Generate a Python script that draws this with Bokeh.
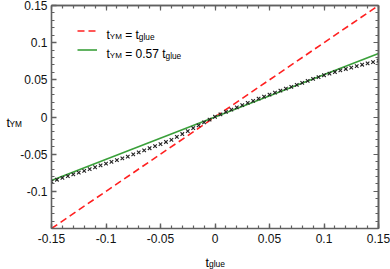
from bokeh.plotting import figure
from bokeh.models import (Range1d, LinearAxis, FixedTicker, CustomJSTickFormatter,
                          Label, Legend, LegendItem)
from bokeh.embed import file_html
from bokeh.resources import INLINE

# ---- data ----
t_glue = [-0.150, -0.145, -0.140, -0.135, -0.130, -0.125, -0.120, -0.115, -0.110, -0.105,
          -0.100, -0.095, -0.090, -0.085, -0.080, -0.075, -0.070, -0.065, -0.060, -0.055,
          -0.050, -0.045, -0.040, -0.035, -0.030, -0.025, -0.020, -0.015, -0.010, -0.005,
          0.000, 0.005, 0.010, 0.015, 0.020, 0.025, 0.030, 0.035, 0.040, 0.045,
          0.050, 0.055, 0.060, 0.065, 0.070, 0.075, 0.080, 0.085, 0.090, 0.095,
          0.100, 0.105, 0.110, 0.115, 0.120, 0.125, 0.130, 0.135, 0.140, 0.145, 0.150]
t_ym = [-0.0868, -0.0844, -0.0820, -0.0796, -0.0772, -0.0748, -0.0724, -0.0700, -0.0676, -0.0652,
        -0.0628, -0.0604, -0.0580, -0.0556, -0.0532, -0.0504, -0.0476, -0.0448, -0.0420, -0.0392,
        -0.0364, -0.0336, -0.0308, -0.0268, -0.0229, -0.0190, -0.0150, -0.0112, -0.0073, -0.0035,
        0.0003, 0.0036, 0.0068, 0.0099, 0.0130, 0.0160, 0.0190, 0.0218, 0.0246, 0.0274,
        0.0301, 0.0328, 0.0355, 0.0381, 0.0406, 0.0433, 0.0460, 0.0486, 0.0512, 0.0537,
        0.0562, 0.0584, 0.0605, 0.0626, 0.0646, 0.0665, 0.0684, 0.0703, 0.0721, 0.0739, 0.0757]
line_slopes = [1.0, 0.57]
x_ticks = [-0.15, -0.1, -0.05, 0.0, 0.05, 0.1, 0.15]
x_tick_labels = ["-0.15", "-0.1", "-0.05", "0", "0.05", "0.1", "0.15"]
y_ticks = [-0.1, -0.05, 0.0, 0.05, 0.1, 0.15]
y_tick_labels = ["-0.1", "-0.05", "0", "0.05", "0.1", "0.15"]
minor_ticks = [round(-0.15 + 0.01 * i, 2) for i in range(31)]

FONT = "Liberation Sans"
AX_COLOR = "#606060"

p = figure(width=390, height=269, output_backend="svg", toolbar_location=None,
           x_range=Range1d(-0.15, 0.15), y_range=Range1d(-0.15, 0.15),
           x_axis_type=None, y_axis_type=None,
           min_border_left=51, min_border_right=12, min_border_top=5, min_border_bottom=39)
p.outline_line_color = None
p.background_fill_color = "white"
p.border_fill_color = "white"


def style_axis(ax):
    ax.axis_line_color = AX_COLOR
    ax.axis_line_width = 1.6
    ax.major_tick_line_color = AX_COLOR
    ax.major_tick_line_width = 1.4
    ax.minor_tick_line_color = AX_COLOR
    ax.minor_tick_line_width = 1.2
    ax.major_tick_in = 5
    ax.major_tick_out = 0
    ax.minor_tick_in = 3
    ax.minor_tick_out = 0
    ax.major_label_text_font = FONT
    ax.major_label_text_color = "#111111"
    ax.major_label_text_font_size = "12px"
    return ax


def labelled_axis(ticks, labels, standoff):
    ax = LinearAxis(ticker=FixedTicker(ticks=ticks, minor_ticks=minor_ticks),
                    formatter=CustomJSTickFormatter(args=dict(labels=labels),
                                                    code="return labels[index];"))
    style_axis(ax)
    ax.major_label_standoff = standoff
    return ax


def bare_axis(tick_positions, length):
    # tick marks only (no tick labels): ticks drawn as minor ticks of an axis with no majors
    ax = LinearAxis(ticker=FixedTicker(ticks=[], minor_ticks=tick_positions))
    style_axis(ax)
    ax.minor_tick_in = length
    ax.major_label_standoff = 0
    ax.axis_label_standoff = 0
    return ax


p.add_layout(labelled_axis(x_ticks, x_tick_labels, 5), "below")
p.add_layout(labelled_axis(y_ticks, y_tick_labels, 4), "left")
p.add_layout(bare_axis(x_ticks, 5), "above")
p.add_layout(bare_axis(minor_ticks, 3), "above")
p.add_layout(bare_axis(y_ticks, 5), "right")
p.add_layout(bare_axis(minor_ticks, 3), "right")

ends = [t_glue[0], t_glue[-1]]
red = p.line(ends, [line_slopes[0] * v for v in ends], line_color="#ff2020",
             line_width=1.6, line_dash="7 4")
green = p.line(ends, [line_slopes[1] * v for v in ends], line_color="#3aa03a",
               line_width=1.6)
p.scatter(t_glue, t_ym, marker="x", size=5, line_color="#222222", line_width=1.1)

legend = Legend(items=[LegendItem(label=" ", renderers=[red]),
                       LegendItem(label=" ", renderers=[green])],
                location=(26, 169), glyph_width=20, glyph_height=19, label_height=19,
                label_width=0, label_standoff=0, spacing=0, padding=0, margin=0,
                border_line_color=None, background_fill_alpha=0)
p.add_layout(legend)

W = {"t": .278, "Y": .667, "M": .833, " ": .278, "=": .584, "g": .556, "l": .222,
     "u": .556, "e": .556, "0": .556, ".": .278, "5": .556, "7": .556}


def add_text(x, y, s, size, place="center"):
    p.add_layout(Label(x=x, y=y, x_units="screen", y_units="screen",
                       text=s, text_font_size=f"{size}px", text_font=FONT,
                       text_baseline="alphabetic", text_align="left", text_color="black"),
                 place)


def text_run(x, y, parts, place="center"):
    for s, size, dy in parts:
        lead = len(s) - len(s.lstrip(" "))
        add_text(x + lead * W[" "] * size, y + dy, s.strip(), size, place)
        x += sum(W[c] for c in s) * size


SUB = -1.5
text_run(55, 193.5, [("t", 12, 0), ("YM", 8, SUB), (" = t", 12, 0), ("glue", 8.3, SUB)])
text_run(55, 174.5, [("t", 12, 0), ("YM", 8, SUB), (" = 0.57 t", 12, 0), ("glue", 8.3, SUB)])
# axis titles live in the side panels (each piece gets its own stacked sub-panel)
add_text(-8, 106, "t", 12.5, "left")
add_text(7, 104.5, "YM", 8.3, "left")
add_text(154, -3, "t", 12.5, "below")
add_text(157.5, 6, "glue", 8.5, "below")

open("out.html", "w").write(file_html(p, INLINE))
